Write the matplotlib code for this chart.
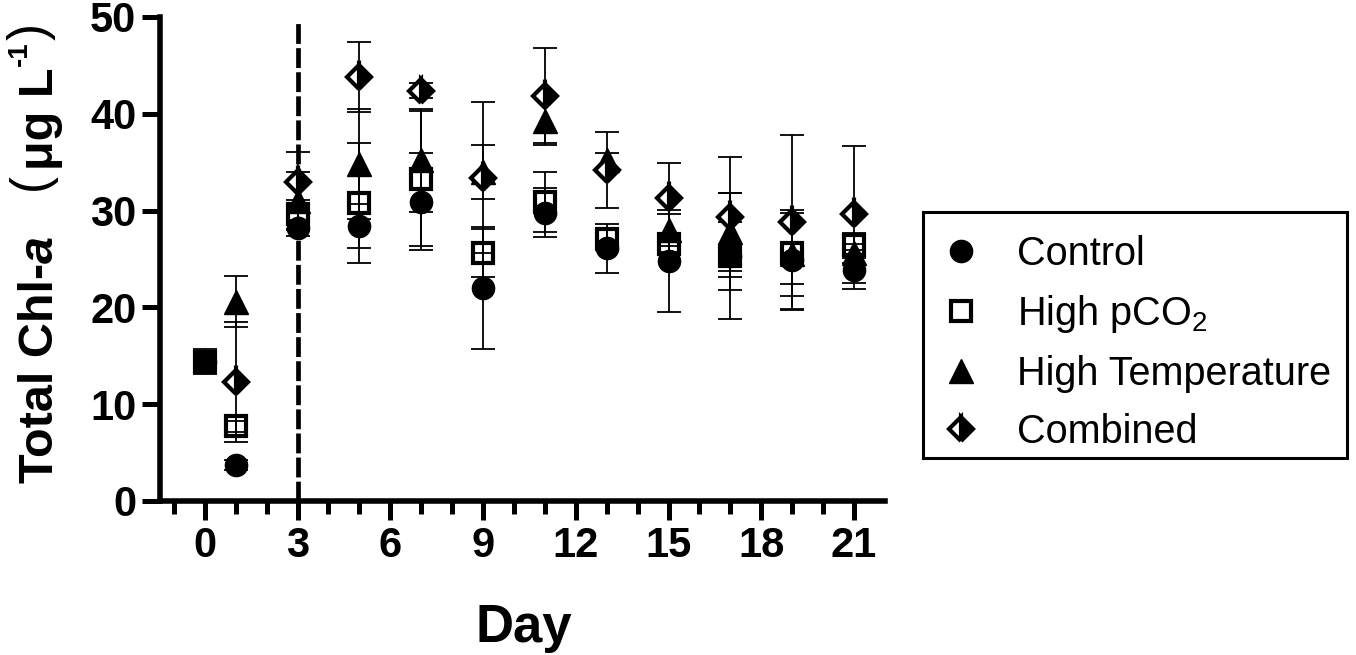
import matplotlib
matplotlib.use("Agg")
import matplotlib.pyplot as plt
import numpy as np
from matplotlib.lines import Line2D
from matplotlib.patches import Rectangle
from matplotlib.ticker import FixedLocator
from matplotlib.font_manager import FontProperties

# ---------------- data ----------------
days = [0, 1, 3, 5, 7, 9, 11, 13, 15, 17, 19, 21]
nan = np.nan
control_mean = [14.4, 3.7, 28.2, 28.4, 30.9, 22.0, 29.8, 26.1, 24.8, 25.3, 24.9, 23.9]
control_sd   = [1.3, 0.5, 0.8, 2.3, 5.0, 6.3, 2.5, 2.5, 5.3, 6.5, 5.2, 2.0]
pco2_mean    = [14.4, 7.7, 29.6, 30.8, 33.3, 25.6, 30.9, 27.1, 26.5, 25.3, 25.6, 26.4]
pco2_sd      = [1.0, 0.6, 1.5, 6.2, 7.0, 2.5, 3.1, 0.9, 0.8, 3.5, 3.2, 1.3]
temp_mean    = [nan, 20.6, 31.0, 34.8, 35.2, 34.0, 39.3, 35.2, 28.0, 27.8, 25.5, 25.6]
temp_sd      = [nan, 2.6, 3.0, 5.7, 5.3, 2.8, 2.3, 0.8, 1.7, 4.0, 4.3, 1.0]
comb_mean    = [nan, 12.3, 33.0, 43.8, 42.4, 33.4, 41.8, 34.2, 31.3, 29.3, 28.8, 29.6]
comb_sd      = [nan, 6.2, 3.1, 3.6, 0.8, 7.8, 5.0, 3.9, 3.6, 6.2, 9.0, 7.1]
series_labels = ["Control", "High pCO$_2$", "High Temperature", "Combined"]
treatment_start_day = 3
x_major_ticks = [0, 3, 6, 9, 12, 15, 18, 21]
x_minor_ticks = list(range(-1, 22))
y_ticks = [0, 10, 20, 30, 40, 50]

# ---------------- style ----------------
plt.rcParams["font.family"] = ["Liberation Sans", "DejaVu Sans"]
plt.rcParams["mathtext.fontset"] = "custom"
plt.rcParams["mathtext.rm"] = "Liberation Sans"
plt.rcParams["mathtext.it"] = "Liberation Sans:italic"
plt.rcParams["mathtext.bf"] = "Liberation Sans:bold"

W, H = 1356, 655
fig = plt.figure(figsize=(W / 100, H / 100), dpi=100)
ax = fig.add_axes([160 / W, (H - 501) / H, (885 - 160) / W, (501 - 17) / H])

ax.set_xlim(-1.45, 22.0)
ax.set_ylim(0, 50)

for s in ["top", "right"]:
    ax.spines[s].set_visible(False)
for s in ["left", "bottom"]:
    ax.spines[s].set_linewidth(4.0)
    ax.spines[s].set_capstyle("projecting")

ax.xaxis.set_major_locator(FixedLocator(x_major_ticks))
ax.xaxis.set_minor_locator(FixedLocator(x_minor_ticks))
ax.yaxis.set_major_locator(FixedLocator(y_ticks))
ax.tick_params(axis="x", which="major", length=14, width=3.6, pad=4, labelsize=30)
ax.tick_params(axis="x", which="minor", length=9, width=3.6)
ax.tick_params(axis="y", which="major", length=13, width=3.6, pad=4, labelsize=30)
for lab in ax.get_xticklabels() + ax.get_yticklabels():
    lab.set_fontweight("bold")

# dashed line marking start of treatment
ax.axvline(treatment_start_day, ymin=0, ymax=0.99, color="black", lw=3.4,
           dashes=(4.2, 0.9), zorder=1)

# error bars
for m, sd in [(control_mean, control_sd), (pco2_mean, pco2_sd),
              (temp_mean, temp_sd), (comb_mean, comb_sd)]:
    ax.errorbar(days, m, yerr=sd, fmt="none", ecolor="black", elinewidth=1.3,
                capsize=8.3, capthick=1.3, zorder=2, clip_on=False)

# markers
sq_style = dict(marker="s", ms=14, mfc="none", mec="black", mew=3.0, ls="none")
ci_style = dict(marker="o", ms=16, mfc="black", mec="black", mew=1.0, ls="none")
tr_style = dict(marker="^", ms=17, mfc="black", mec="black", mew=1.0, ls="none")
di_style = dict(marker="D", ms=12, fillstyle="right", mfc="black",
                markerfacecoloralt="white", mec="black", mew=3.0, ls="none")

ax.plot(days, pco2_mean, zorder=3, clip_on=False, **sq_style)
ax.plot(days, control_mean, zorder=4, clip_on=False, **ci_style)
ax.plot(days, temp_mean, zorder=5, clip_on=False, **tr_style)
ax.plot(days, comb_mean, zorder=6, clip_on=False, **di_style)

# legend (frame drawn separately)
handles = [Line2D([], [], **ci_style), Line2D([], [], **sq_style),
           Line2D([], [], **tr_style), Line2D([], [], **di_style)]
leg = fig.legend(handles, series_labels, loc="center",
                 bbox_to_anchor=(1135 / W, 1 - 343 / H),
                 prop=FontProperties(family="Liberation Sans", size=28.5, weight="normal"),
                 frameon=False, labelspacing=0.5, borderpad=0.38, handlelength=1.11,
                 handletextpad=0.88, borderaxespad=0)
fig.patches.append(Rectangle((923 / W, 1 - 458 / H), (1347 - 923) / W, (458 - 212) / H,
                             transform=fig.transFigure, fill=False,
                             edgecolor="black", linewidth=2.2, zorder=5))

# x label
fig.text(524 / W, (H - 642) / H, "Day", ha="center", va="baseline",
         fontsize=38, fontweight="bold")

# y label built from pieces along one baseline:
# (text, font kwargs, gap before in px, shift towards glyph tops in px)
renderer = fig.canvas.get_renderer()
pieces = [
    ("Total Chl-", dict(weight="bold", style="normal", fontsize=35), 0, 0),
    ("a", dict(weight="bold", style="italic", fontsize=35), 0, 0),
    ("(", dict(weight="normal", style="normal", fontsize=37), 46, 8),
    ("\u03bcg L", dict(weight="bold", style="normal", fontsize=35), 3, 0),
    ("-1", dict(weight="bold", style="normal", fontsize=20), 1, 26),
    (")", dict(weight="normal", style="normal", fontsize=37), 2, 8),
]
base_x = 53
ypix = H - 483
for txt, kw, gap, shift in pieces:
    ypix += gap
    t = fig.text((base_x - shift) / W, ypix / H, txt, rotation=90,
                 rotation_mode="anchor", ha="left", va="baseline",
                 family="Liberation Sans", **kw)
    bb = t.get_window_extent(renderer)
    ypix += bb.height

fig.savefig("out.png", dpi=100)
